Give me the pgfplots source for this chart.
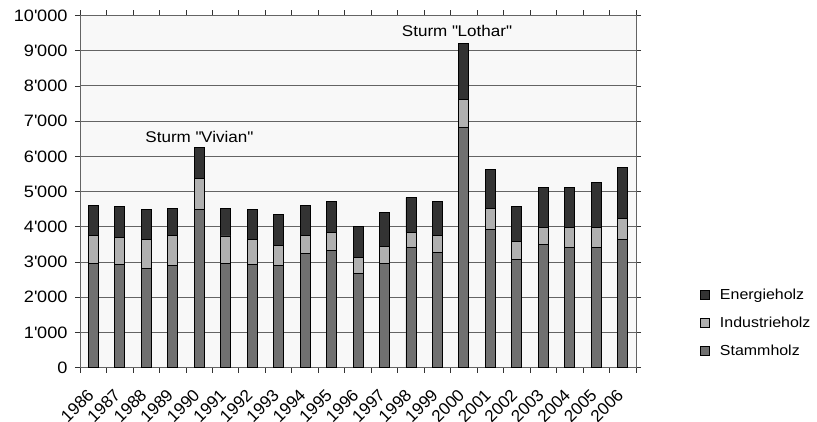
\documentclass[border=0pt]{standalone}
\usepackage{fontspec}
\setmainfont{Liberation Sans}[FakeStretch=1.1]
\newfontfamily\yearfont{Liberation Sans}
\usepackage{pgfplots}
\pgfplotsset{compat=1.18}
\usepackage{pgfplotstable}
\definecolor{stamm}{RGB}{112,112,112}
\definecolor{indu}{RGB}{176,176,176}
\definecolor{ener}{RGB}{51,51,51}
\definecolor{gridc}{RGB}{100,100,100}
\definecolor{bgc}{RGB}{248,248,248}
\pgfplotstableread{
x stamm indu ener
0 2970 780 850
1 2940 770 860
2 2810 820 860
3 2900 850 780
4 4490 890 870
5 2970 770 790
6 2940 690 860
7 2900 580 880
8 3240 510 860
9 3320 510 880
10 2680 460 870
11 2970 480 950
12 3410 430 990
13 3280 470 980
14 6810 810 1590
15 3920 600 1120
16 3060 520 990
17 3490 500 1130
18 3410 560 1150
19 3410 580 1270
20 3640 610 1440
}\datatable
\begin{document}
\begin{tikzpicture}
\useasboundingbox (0,0) rectangle (817pt,421pt);
\begin{axis}[
  at={(80pt,53.3pt)}, anchor=south west,
  scale only axis, width=556pt, height=352.2pt,
  ybar stacked, bar width=10pt,
  xmin=-0.5, xmax=20.5, ymin=0, ymax=10000,
  scaled y ticks=false,
  xtick={-0.5,0.5,...,20.5},
  x tick label as interval,
  xticklabels={1986,1987,1988,1989,1990,1991,1992,1993,1994,1995,1996,1997,1998,1999,2000,2001,2002,2003,2004,2005,2006},
  ytick={0,1000,...,10000},
  yticklabels={0,1\textquotesingle000,2\textquotesingle000,3\textquotesingle000,4\textquotesingle000,5\textquotesingle000,6\textquotesingle000,7\textquotesingle000,8\textquotesingle000,9\textquotesingle000,10\textquotesingle000},
  tick align=outside, major tick length=5pt,
  tick style={draw=black!80, line width=0.8pt},
  ymajorgrids, grid style={draw=gridc, line width=0.9pt},
  axis line style={draw=gridc, line width=0.9pt},
  axis background/.style={fill=bgc},
  yticklabel style={font=\fontsize{16.5}{18}\selectfont, xshift=-4pt},
  xticklabel style={font=\yearfont\fontsize{17}{19}\selectfont, xshift=-2.5pt, yshift=-19.5pt, rotate=45, anchor=east, inner sep=0pt},
  legend style={draw=none, fill=none, at={(1.115,0.229)}, anchor=north west,
    font=\fontsize{14.5}{16}\selectfont, row sep=12pt, inner sep=0pt},
  legend cell align=left,
  reverse legend,
  legend image code/.code={\draw[#1, draw=black, line width=0.8pt] (0pt,-4.5pt) rectangle (9pt,4.5pt); \path (17pt,0pt);},
  every axis plot/.append style={draw=black, line width=0.9pt},
]
\addplot[fill=stamm] table[x=x, y=stamm] {\datatable};
\addplot[fill=indu] table[x=x, y=indu] {\datatable};
\addplot[fill=ener] table[x=x, y=ener] {\datatable};
\legend{Stammholz, Industrieholz, Energieholz}
\node[font=\fontsize{15.5}{17}\selectfont] at (axis cs:4,6550) {Sturm \textquotedbl Vivian\textquotedbl};
\node[font=\fontsize{15.5}{17}\selectfont] at (axis cs:13.73,9560) {Sturm \textquotedbl Lothar\textquotedbl};
\end{axis}
\end{tikzpicture}
\end{document}
